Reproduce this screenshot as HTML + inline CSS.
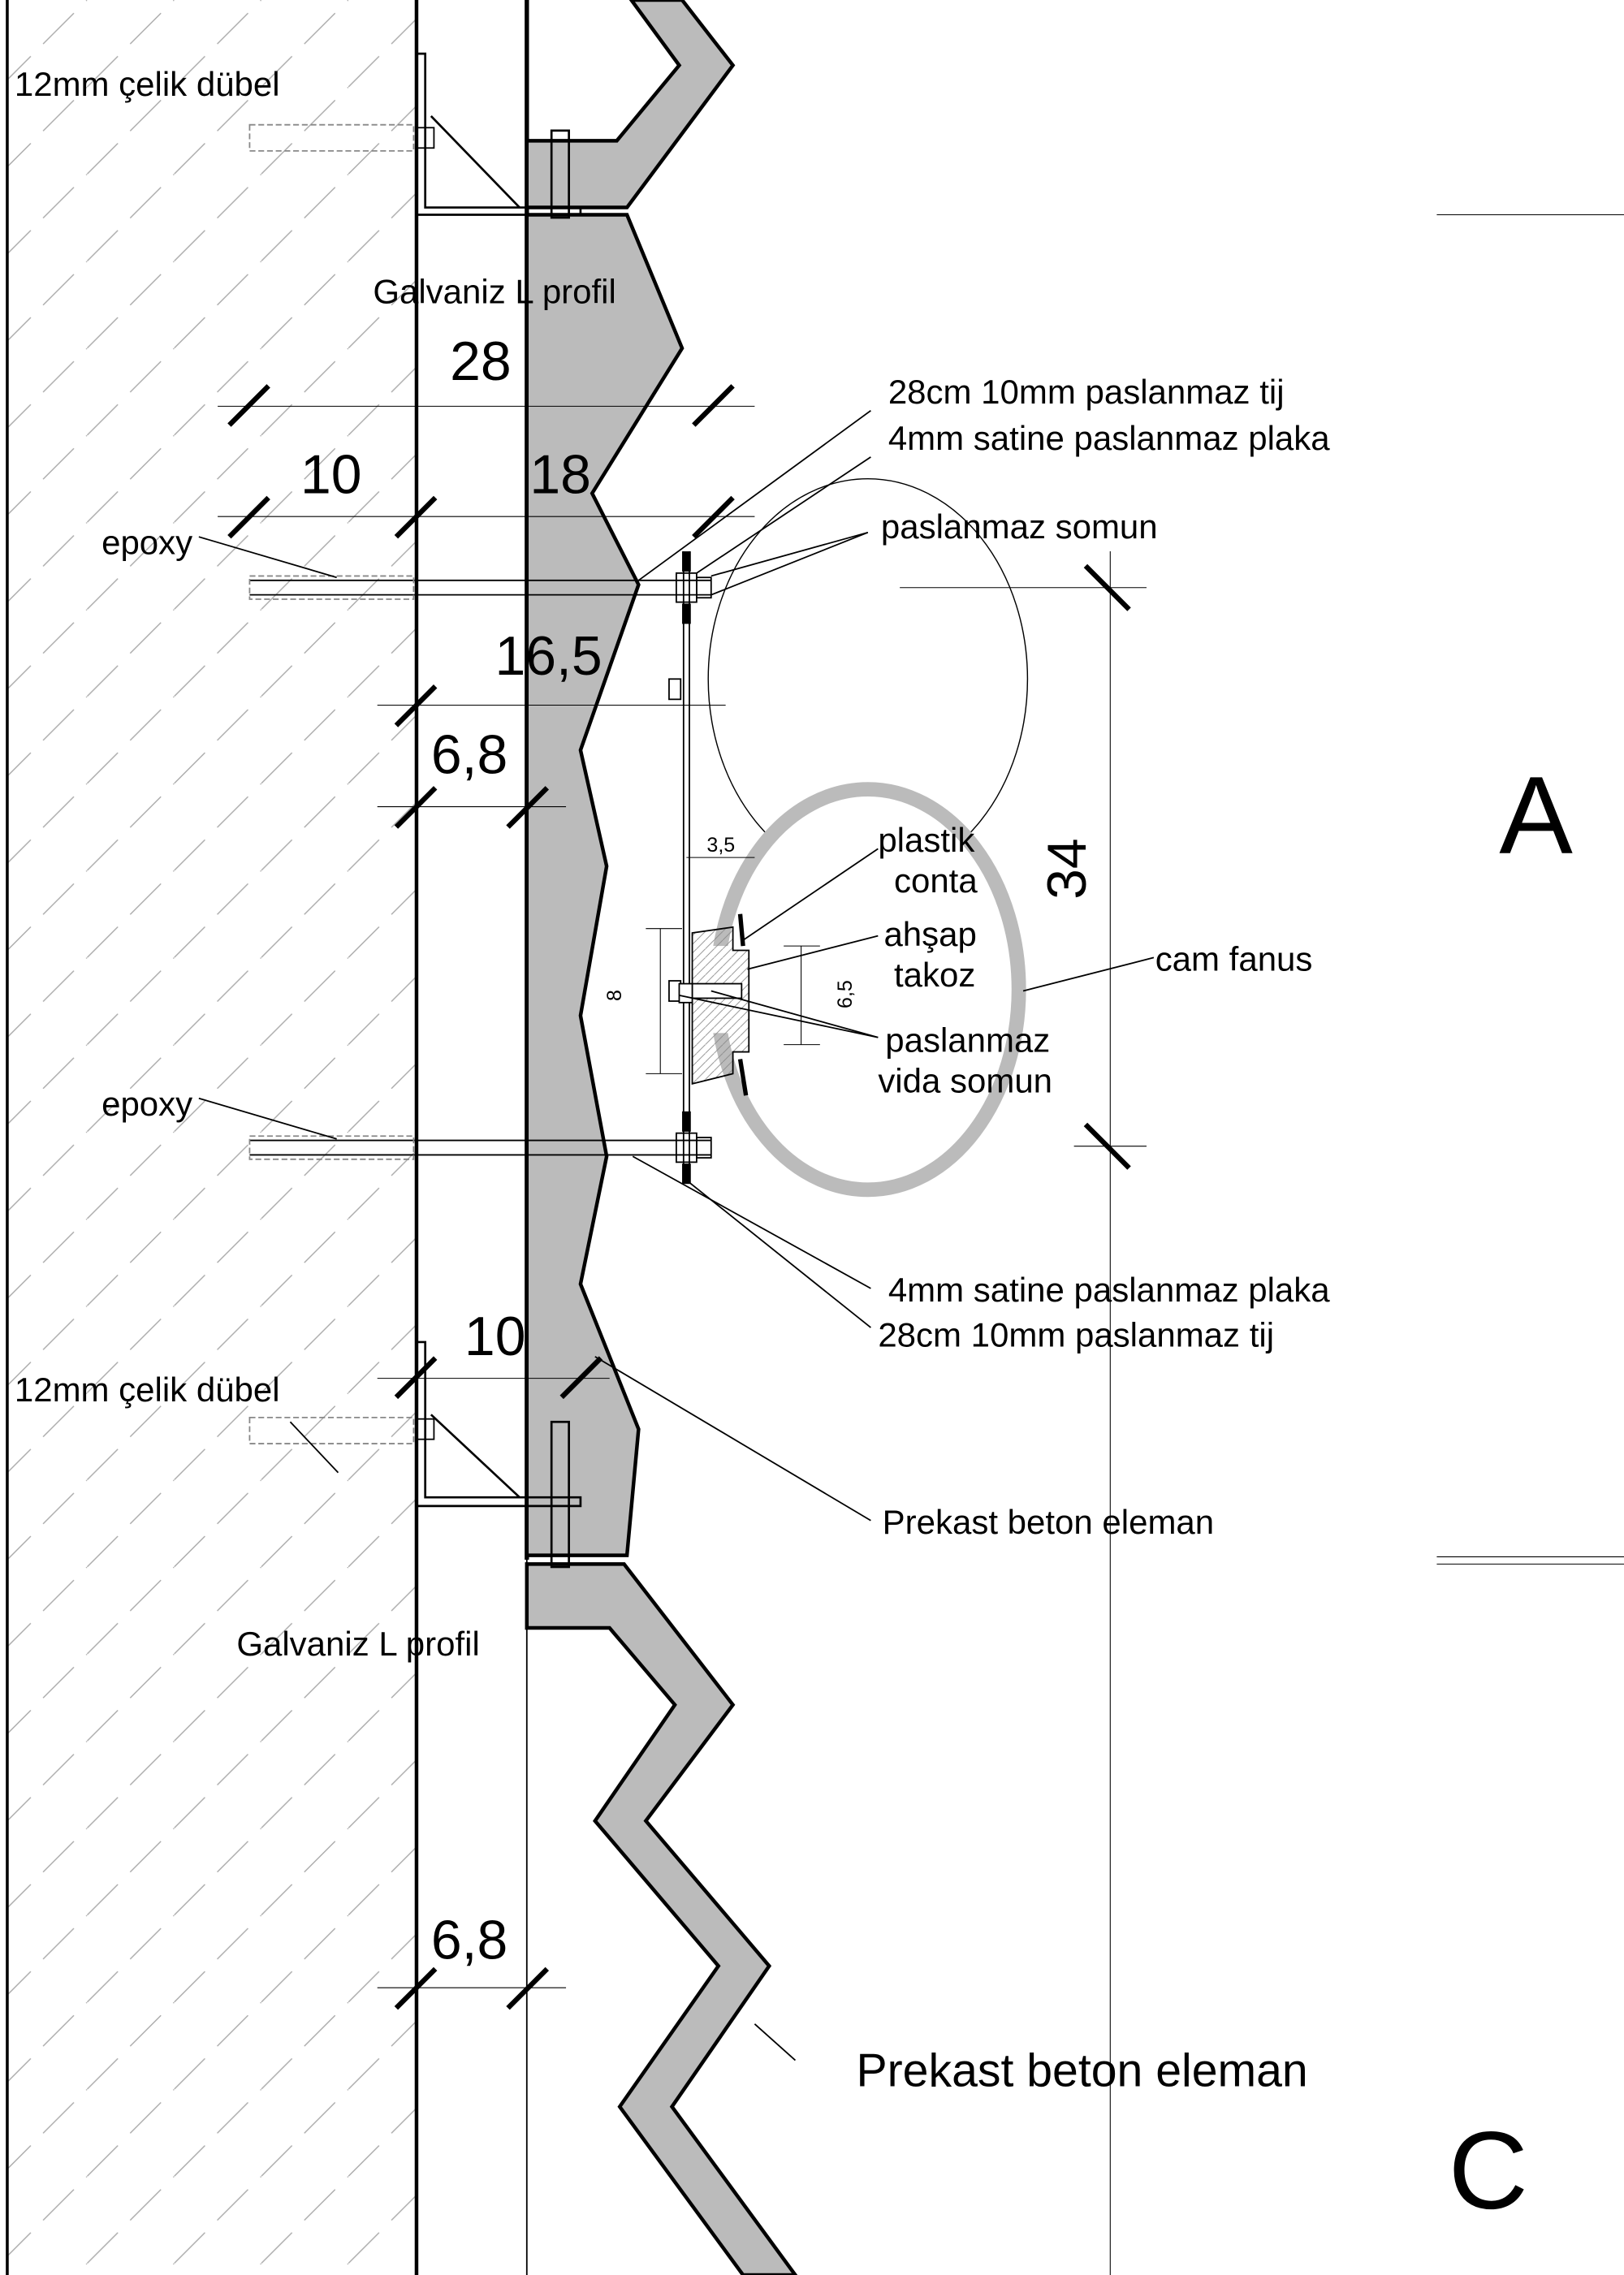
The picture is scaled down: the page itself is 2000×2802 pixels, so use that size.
<!DOCTYPE html>
<html><head><meta charset="utf-8"><style>
html,body{margin:0;padding:0;background:#fff}
svg{display:block}
text{font-family:"Liberation Sans",sans-serif;fill:#000}
</style></head><body>
<svg width="2000" height="2802" viewBox="0 0 1119 1568" preserveAspectRatio="none" xmlns="http://www.w3.org/2000/svg">
<defs>
<pattern id="h" width="60" height="60" patternUnits="userSpaceOnUse">
<path d="M0 60 L60 0" stroke="#aaa" stroke-width="0.8" stroke-dasharray="30 12"/>
</pattern>
<pattern id="w" width="6" height="6" patternUnits="userSpaceOnUse">
<path d="M0 6 L6 0" stroke="#888" stroke-width="0.5"/>
</pattern>
</defs>
<rect width="1119" height="1568" fill="#fff"/>
<rect x="5" y="0" width="282" height="1568" fill="url(#h)"/>
<line x1="5" y1="0" x2="5" y2="1568" stroke="#000" stroke-width="2"/>
<line x1="287" y1="0" x2="287" y2="1568" stroke="#000" stroke-width="2.5"/>
<line x1="363" y1="0" x2="363" y2="1075" stroke="#000" stroke-width="3"/>
<line x1="363" y1="1075" x2="363" y2="1568" stroke="#000" stroke-width="1"/>

<polygon points="363,97 425,97 468,45 435,0 470,0 505,45 432,143 363,143" fill="#bbb" stroke="#000" stroke-width="2.5"/>
<polygon points="363,148 432,148 470,240 408,340 440,403 400,517 418,597 400,700 418,797 400,885 440,985 432,1072 363,1072" fill="#bbb" stroke="#000" stroke-width="2.5"/>
<polygon points="363,1078 430,1078 505,1175 445,1255 530,1355 463,1452 548,1568 512,1568 427,1452 495,1355 410,1255 465,1175 420,1122 363,1122" fill="#bbb" stroke="#000" stroke-width="2.5"/>

<g fill="none" stroke="#000" stroke-width="1.5">
<polyline points="287,37 293,37 293,143 400,143 400,148 287,148"/>
<line x1="297" y1="80" x2="358" y2="143"/>
<rect x="380" y="90" width="12" height="60"/>
<rect x="172" y="86" width="113" height="18" stroke="#888" stroke-dasharray="4 2" stroke-width="1"/>
<rect x="287" y="88" width="12" height="14" stroke-width="1"/>
<polyline points="287,925 293,925 293,1032 400,1032 400,1038 287,1038"/>
<line x1="297" y1="975" x2="358" y2="1032"/>
<rect x="380" y="980" width="12" height="100"/>
<rect x="172" y="977" width="113" height="18" stroke="#888" stroke-dasharray="4 2" stroke-width="1"/>
<rect x="287" y="978" width="12" height="14" stroke-width="1"/>
<line x1="200" y1="980" x2="233" y2="1015" stroke-width="1"/>
</g>

<g fill="none" stroke="#000" stroke-width="1">
<line x1="172" y1="400" x2="490" y2="400"/><line x1="172" y1="410" x2="490" y2="410"/>
<rect x="172" y="397" width="113" height="16" stroke="#888" stroke-dasharray="4 2"/>
<line x1="172" y1="786" x2="490" y2="786"/><line x1="172" y1="796" x2="490" y2="796"/>
<rect x="172" y="783" width="113" height="16" stroke="#888" stroke-dasharray="4 2"/>
<line x1="471" y1="380" x2="471" y2="815"/><line x1="475" y1="380" x2="475" y2="815"/>
<rect x="466" y="395" width="14" height="20"/><rect x="480" y="398" width="10" height="14"/>
<rect x="466" y="781" width="14" height="20"/><rect x="480" y="784" width="10" height="14"/>
<rect x="461" y="468" width="8" height="14"/><rect x="461" y="676" width="8" height="14"/>
</g>
<g fill="#000"><rect x="470" y="380" width="6" height="14"/><rect x="470" y="416" width="6" height="14"/>
<rect x="470" y="766" width="6" height="14"/><rect x="470" y="802" width="6" height="14"/></g>

<ellipse cx="598" cy="468" rx="110" ry="138" fill="none" stroke="#000" stroke-width="0.8"/>
<ellipse cx="598" cy="682" rx="104" ry="138" fill="#fff" stroke="#bbb" stroke-width="10"/>
<rect x="488" y="652" width="20" height="60" fill="#fff"/>
<polygon points="477,643 505,639 505,655 516,655 516,725 505,725 505,740 477,747" fill="url(#w)" stroke="#000" stroke-width="1"/>
<rect x="477" y="678" width="34" height="10" fill="#fff" stroke="#000" stroke-width="1"/>
<rect x="468" y="678" width="9" height="13" fill="#fff" stroke="#000" stroke-width="1"/>
<line x1="510" y1="630" x2="512" y2="652" stroke="#000" stroke-width="3"/>
<line x1="510" y1="730" x2="514" y2="755" stroke="#000" stroke-width="3"/>

<g stroke="#000" stroke-width="0.6" fill="none">
<line x1="455" y1="640" x2="455" y2="740"/><line x1="445" y1="640" x2="470" y2="640"/><line x1="445" y1="740" x2="470" y2="740"/>
<line x1="552" y1="652" x2="552" y2="720"/><line x1="540" y1="652" x2="565" y2="652"/><line x1="540" y1="720" x2="565" y2="720"/>
<line x1="473" y1="591" x2="520" y2="591"/>
<line x1="150" y1="280" x2="520" y2="280"/><line x1="150" y1="356" x2="520" y2="356"/>
<line x1="260" y1="486" x2="500" y2="486"/><line x1="260" y1="556" x2="390" y2="556"/>
<line x1="260" y1="950" x2="420" y2="950"/><line x1="260" y1="1370" x2="390" y2="1370"/>
<line x1="765" y1="380" x2="765" y2="1568"/>
<line x1="620" y1="405" x2="790" y2="405"/><line x1="740" y1="790" x2="790" y2="790"/>
<line x1="990" y1="148" x2="1119" y2="148"/><line x1="990" y1="1073" x2="1119" y2="1073"/><line x1="990" y1="1078" x2="1119" y2="1078"/>
</g>
<g stroke="#000" stroke-width="3.5">
<line x1="158" y1="293" x2="185" y2="266"/><line x1="478" y1="293" x2="505" y2="266"/>
<line x1="158" y1="370" x2="185" y2="343"/><line x1="273" y1="370" x2="300" y2="343"/><line x1="478" y1="370" x2="505" y2="343"/>
<line x1="273" y1="500" x2="300" y2="473"/><line x1="273" y1="570" x2="300" y2="543"/><line x1="350" y1="570" x2="377" y2="543"/>
<line x1="273" y1="963" x2="300" y2="936"/><line x1="387" y1="963" x2="414" y2="936"/>
<line x1="273" y1="1384" x2="300" y2="1357"/><line x1="350" y1="1384" x2="377" y2="1357"/>
<line x1="748" y1="390" x2="778" y2="420"/><line x1="748" y1="775" x2="778" y2="805"/>
</g>

<g stroke="#000" stroke-width="1" fill="none">
<line x1="137" y1="370" x2="232" y2="398"/><line x1="137" y1="757" x2="232" y2="785"/>
<line x1="440" y1="400" x2="600" y2="283"/><line x1="480" y1="395" x2="600" y2="315"/>
<line x1="490" y1="397" x2="598" y2="367"/><line x1="490" y1="410" x2="598" y2="367"/>
<line x1="512" y1="648" x2="605" y2="585"/><line x1="515" y1="668" x2="605" y2="645"/>
<line x1="468" y1="686" x2="605" y2="715"/><line x1="490" y1="683" x2="605" y2="715"/>
<line x1="705" y1="683" x2="795" y2="660"/>
<line x1="436" y1="797" x2="600" y2="888"/><line x1="475" y1="815" x2="600" y2="915"/>
<line x1="410" y1="935" x2="600" y2="1048"/>
<line x1="520" y1="1395" x2="548" y2="1420"/>
</g>

<g font-size="23.5">
<text x="10" y="66">12mm çelik dübel</text>
<text x="10" y="966">12mm çelik dübel</text>
<text x="257" y="209">Galvaniz L profil</text>
<text x="163" y="1141">Galvaniz L profil</text>
<text x="70" y="382">epoxy</text>
<text x="70" y="769">epoxy</text>
<text x="612" y="278">28cm 10mm paslanmaz tij</text>
<text x="612" y="310">4mm satine paslanmaz plaka</text>
<text x="607" y="371">paslanmaz somun</text>
<text x="605" y="587">plastik</text><text x="616" y="615">conta</text>
<text x="609" y="652">ahşap</text><text x="616" y="680">takoz</text>
<text x="610" y="725">paslanmaz</text><text x="605" y="753">vida somun</text>
<text x="796" y="669">cam fanus</text>
<text x="612" y="897">4mm satine paslanmaz plaka</text>
<text x="605" y="928">28cm 10mm paslanmaz tij</text>
<text x="608" y="1057">Prekast beton eleman</text>
</g>
<text x="590" y="1438" font-size="32">Prekast beton eleman</text>
<g font-size="38">
<text x="310" y="262">28</text><text x="207" y="340">10</text><text x="365" y="340">18</text>
<text x="341" y="465">16,5</text><text x="297" y="533">6,8</text><text x="320" y="934">10</text><text x="297" y="1350">6,8</text>
<text transform="translate(748,620) rotate(-90)">34</text>
</g>
<text x="487" y="587" font-size="14">3,5</text>
<text transform="translate(428,690) rotate(-90)" font-size="14">8</text>
<text transform="translate(587,695) rotate(-90)" font-size="14">6,5</text>
<text x="1033" y="588" font-size="76">A</text>
<text x="998" y="1522" font-size="76">C</text>
</svg>
</body></html>
